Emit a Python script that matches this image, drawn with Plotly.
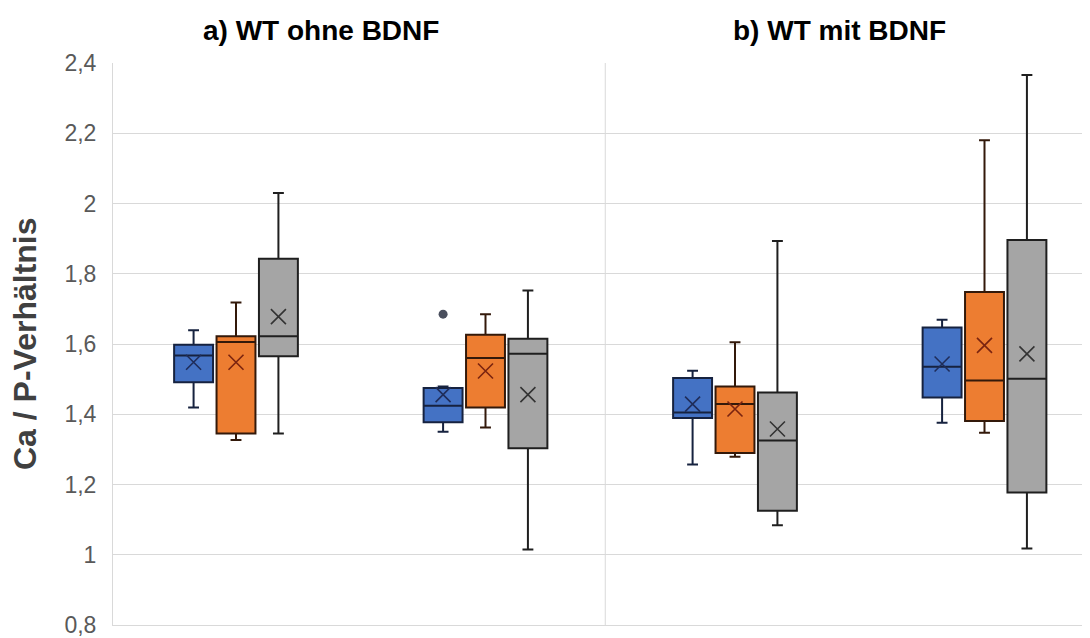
import plotly.graph_objects as go

# ---------------- data ----------------
groups = ["a) Gruppe 1", "a) Gruppe 2", "b) Gruppe 1", "b) Gruppe 2"]
series_names = ["Serie 1", "Serie 2", "Serie 3"]

blue_q1 = [1.491, 1.377, 1.389, 1.448]
blue_median = [1.567, 1.424, 1.405, 1.535]
blue_q3 = [1.598, 1.475, 1.503, 1.647]
blue_lower = [1.419, 1.350, 1.257, 1.376]
blue_upper = [1.639, 1.479, 1.524, 1.669]
blue_mean = [1.548, 1.456, 1.429, 1.543]

orange_q1 = [1.345, 1.419, 1.290, 1.381]
orange_median = [1.606, 1.560, 1.429, 1.496]
orange_q3 = [1.622, 1.626, 1.479, 1.748]
orange_lower = [1.327, 1.362, 1.279, 1.347]
orange_upper = [1.718, 1.685, 1.605, 2.180]
orange_mean = [1.548, 1.523, 1.415, 1.596]

gray_q1 = [1.565, 1.303, 1.125, 1.177]
gray_median = [1.622, 1.572, 1.325, 1.501]
gray_q3 = [1.843, 1.615, 1.462, 1.896]
gray_lower = [1.345, 1.015, 1.084, 1.018]
gray_upper = [2.030, 1.752, 1.893, 2.366]
gray_mean = [1.678, 1.456, 1.358, 1.572]

outlier_group = [1]          # group index of the outlier (blue series)
outlier_value = [1.685]

panel_titles = ["a) WT ohne BDNF", "b) WT mit BDNF"]
y_title = "Ca / P-Verhältnis"
y_tickvals = [0.8, 1.0, 1.2, 1.4, 1.6, 1.8, 2.0, 2.2, 2.4]
y_ticktext = ["0,8", "1", "1,2", "1,4", "1,6", "1,8", "2", "2,2", "2,4"]

# ---------------- styling ----------------
FONT = "Liberation Sans, Arial, sans-serif"
fills = ["#4472C4", "#ED7D31", "#A5A5A5"]
edges = ["#16223F", "#33190A", "#1F1F1F"]
xcolors = ["#1F2D5A", "#7A2410", "#333333"]
offsets = [-0.170, 0.0, 0.170]
box_w = 0.156

series = [
    (blue_q1, blue_median, blue_q3, blue_lower, blue_upper, blue_mean),
    (orange_q1, orange_median, orange_q3, orange_lower, orange_upper, orange_mean),
    (gray_q1, gray_median, gray_q3, gray_lower, gray_upper, gray_mean),
]

fig = go.Figure()
gidx = list(range(len(groups)))

for k, (q1, med, q3, lo, hi, mn) in enumerate(series):
    xs = [g + offsets[k] for g in gidx]
    fig.add_trace(go.Box(
        x=xs, q1=q1, median=med, q3=q3, lowerfence=lo, upperfence=hi,
        name=series_names[k], width=box_w, whiskerwidth=0.28,
        fillcolor=fills[k], line=dict(color=edges[k], width=2),
        boxpoints=False, showlegend=False, hoverinfo="skip",
    ))
    fig.add_trace(go.Scatter(
        x=xs, y=mn, mode="markers", showlegend=False, hoverinfo="skip",
        marker=dict(symbol="x-thin", size=15,
                    line=dict(color=xcolors[k], width=1.6)),
    ))

fig.add_trace(go.Scatter(
    x=[g + offsets[0] for g in outlier_group], y=outlier_value,
    mode="markers", showlegend=False, hoverinfo="skip",
    marker=dict(symbol="circle", size=9, color="#4A4F5E"),
))

# page body has an 8px default margin: compensate so the plot lands where intended
OFF = 8
FIG_W, FIG_H = 1090 - OFF, 638 - OFF
L, R, T, B = 113 - OFF, 0, 63 - OFF, 13
plot_w = FIG_W - L - R
plot_h = FIG_H - T - B
unit_px = 249.5
xmin = -(236 - 113) / unit_px
xmax = xmin + plot_w / unit_px

# vertical divider between the two panels
fig.add_shape(type="line", xref="x", yref="paper", x0=1.48, x1=1.48, y0=0, y1=1,
              line=dict(color="#D9D9D9", width=1), layer="below")

fig.update_layout(
    width=FIG_W, height=FIG_H,
    margin=dict(l=L, r=R, t=T, b=B, autoexpand=False),
    paper_bgcolor="white", plot_bgcolor="white",
    font=dict(family=FONT, color="#595959"),
    xaxis=dict(range=[xmin, xmax], showticklabels=False, showgrid=False,
               zeroline=False, showline=True, linecolor="#D9D9D9", linewidth=1,
               automargin=False),
    yaxis=dict(range=[0.8, 2.4], tickvals=y_tickvals, ticktext=y_ticktext,
               showgrid=True, gridcolor="#D9D9D9", gridwidth=1,
               zeroline=False, showline=True, linecolor="#D9D9D9", linewidth=1,
               ticks="", ticklabelstandoff=11, automargin=False,
               ticklabeloverflow="allow",
               tickfont=dict(family=FONT, size=23, color="#595959")),
)

# panel titles
for txt, px in zip(panel_titles, [321, 839]):
    fig.add_annotation(text="<b>" + txt + "</b>", xref="paper", yref="paper",
                       x=(px - 113) / plot_w, y=1 + (63 - 31) / plot_h,
                       xanchor="center", yanchor="middle", showarrow=False,
                       font=dict(family=FONT, size=28, color="#000000"))

# y axis title
fig.add_annotation(text="<b>" + y_title + "</b>", xref="paper", yref="paper",
                   x=(25 - 113) / plot_w, y=0.5, textangle=-90,
                   xanchor="center", yanchor="middle", showarrow=False,
                   font=dict(family=FONT, size=32, color="#404040"))

fig.write_html("out.html")
